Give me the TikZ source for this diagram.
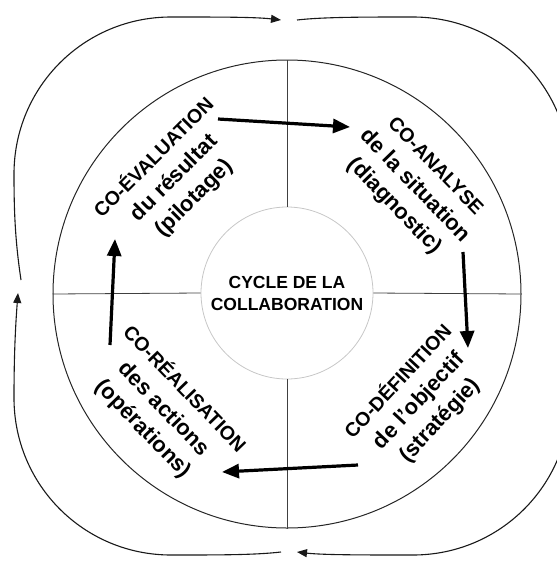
\documentclass[tikz,border=0pt]{standalone}
\usepackage{fontspec}
\setmainfont{Liberation Sans}
\usetikzlibrary{arrows.meta}
\newcommand\capline[1]{{\fontsize{19.5}{28.5}\selectfont #1}}
\begin{document}
\begin{tikzpicture}[x=1pt,y=-1pt,
  loopline/.style={line width=1.1pt, draw=black!90, -{Triangle[length=10pt,width=8pt]}},
  flow/.style={line width=3.2pt, -{Triangle[length=17pt,width=14pt]}},
  divider/.style={line width=0.8pt, draw=black!75},
  quad/.style={align=center, font=\bfseries\fontsize{22}{28.5}\selectfont, inner sep=0pt},
]
\useasboundingbox (0,0) rectangle (557,563);
\clip (0,0) rectangle (557,563);

% ring and hub
\node[circle, draw=black!85, line width=1pt, minimum size=468pt, inner sep=0pt] (ring) at (287,294) {};
\node[circle, draw=black!22, line width=0.8pt, minimum size=172pt, inner sep=0pt,
      align=center, font=\bfseries\fontsize{17.5}{22}\selectfont] (hub) at (287,293)
      {CYCLE DE LA\\COLLABORATION};

% quadrant dividers
\draw[divider] (hub.north) -- (ring.north);
\draw[divider] (hub.south) -- (ring.south);
\draw[divider] (hub.west) -- (ring.west);
\draw[divider] (hub.east) -- (ring.east);

% the four phases
\node[quad, rotate=45]  (evaluation) at (174,178) {\capline{CO-ÉVALUATION}\\du résultat\\(pilotage)};
\node[quad, rotate=-46] (analyse)    at (414,187) {\capline{CO-ANALYSE}\\de la situation\\(diagnostic)};
\node[quad, rotate=47]  (definition) at (419,401) {\capline{CO-DÉFINITION}\\de l'objectif\\(stratégie)};
\node[quad, rotate=-46] (realisation) at (164,409) {\capline{CO-RÉALISATION}\\des actions\\(opérations)};

% cycle arrows
\coordinate (s1) at (218,119); \coordinate (t1) at (350,127);
\coordinate (s2) at (463,252); \coordinate (t2) at (468,348);
\coordinate (s3) at (358,465); \coordinate (t3) at (222,472);
\coordinate (s4) at (110,345); \coordinate (t4) at (115,239);
\draw[flow] (s1) -- (t1);
\draw[flow] (s2) -- (t2);
\draw[flow] (s3) -- (t3);
\draw[flow] (s4) -- (t4);

% outer clockwise loop
\draw[loopline] (21,280) .. controls (15,240) and (14,210) .. (14,174)
  .. controls (14,87) and (84,17) .. (171,17)
  .. controls (220,17) and (255,17) .. (281,20);
\draw[loopline] (297,20) .. controls (323,17) and (364,17) .. (413,17)
  .. controls (500,17) and (570,87) .. (570,174)
  .. controls (570,210) and (569,240) .. (566,279);
\draw[loopline] (563,292) .. controls (569,332) and (570,362) .. (570,398)
  .. controls (570,485) and (500,555) .. (413,555)
  .. controls (364,555) and (323,555) .. (297,552);
\draw[loopline] (281,552) .. controls (255,555) and (220,555) .. (171,555)
  .. controls (84,555) and (14,485) .. (14,398)
  .. controls (14,362) and (15,332) .. (18,293);
\end{tikzpicture}
\end{document}
